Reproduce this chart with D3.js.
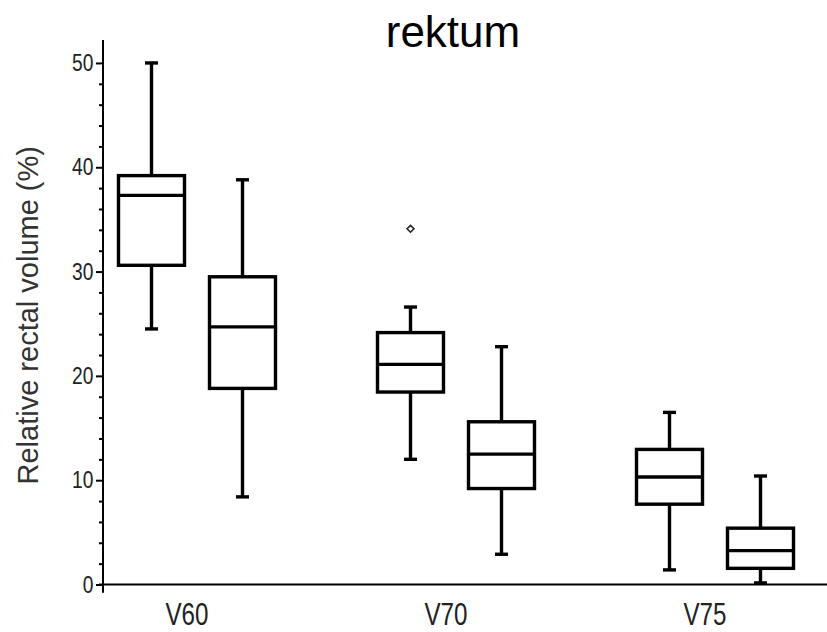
<!DOCTYPE html>
<html>
<head>
<meta charset="utf-8">
<script src="https://cdn.jsdelivr.net/npm/d3@7"></script>
<style>
  html, body { margin: 0; padding: 0; background: #fff; }
  svg { display: block; }
</style>
</head>
<body>
<svg id="chart" width="827" height="632"></svg>
<script>
// ---- data ----
const groups = ["V60", "V70", "V75"];
const series = ["A", "B"];
// five-number summaries per series, one entry per group
const seriesAMin    = [24.5, 12.0, 1.4];
const seriesAQ1     = [30.6, 18.45, 7.7];
const seriesAMedian = [37.3, 21.1, 10.3];
const seriesAQ3     = [39.2, 24.15, 12.95];
const seriesAMax    = [50.0, 26.6, 16.5];
const seriesBMin    = [8.4, 2.9, 0.15];
const seriesBQ1     = [18.8, 9.2, 1.55];
const seriesBMedian = [24.7, 12.5, 3.25];
const seriesBQ3     = [29.5, 15.6, 5.4];
const seriesBMax    = [38.8, 22.8, 10.4];
// outliers
const outlierGroup  = ["V70"];
const outlierSeries = ["A"];
const outlierValue  = [34.1];
const yTickValues = [0, 10, 20, 30, 40, 50];
const yMinorTickValues = [2, 4, 6, 8, 12, 14, 16, 18, 22, 24, 26, 28, 32, 34, 36, 38, 42, 44, 46, 48];
const titleText = "rektum";
const yTitleText = "Relative rectal volume (%)";

// build table
const boxes = [];
groups.forEach((g, i) => {
  boxes.push({ group: g, series: "A", min: seriesAMin[i], q1: seriesAQ1[i], med: seriesAMedian[i], q3: seriesAQ3[i], max: seriesAMax[i] });
  boxes.push({ group: g, series: "B", min: seriesBMin[i], q1: seriesBQ1[i], med: seriesBMedian[i], q3: seriesBQ3[i], max: seriesBMax[i] });
});
const outliers = outlierValue.map((v, i) => ({ group: outlierGroup[i], series: outlierSeries[i], value: v }));

const svg = d3.select("#chart");
const sans = "'Liberation Sans', Arial, Helvetica, sans-serif";
const squeeze = 0.8;

// scales
const y = d3.scaleLinear().domain([0, 52.2]).range([584.5, 40]);
const x0 = d3.scaleBand().domain(groups).range([67.5, 844.5]);
const x1 = d3.scalePoint().domain(series).range([84, 175]);
const boxW = 66, capW = 13;
const cx = d => x0(d.group) + x1(d.series);

// y axis (major)
const yAxis = svg.append("g")
  .attr("transform", "translate(103,0)")
  .call(d3.axisLeft(y).tickValues(yTickValues).tickSize(7).tickPadding(5).tickSizeOuter(0));
yAxis.select(".domain").remove();
yAxis.selectAll(".tick line").attr("stroke", "#000").attr("stroke-width", 2);
yAxis.selectAll(".tick text")
  .attr("font-family", sans).attr("font-size", 24).attr("fill", "#222")
  .attr("transform", `scale(${squeeze},1)`);

// minor ticks
const yMinor = svg.append("g")
  .attr("transform", "translate(103,0)")
  .call(d3.axisLeft(y).tickValues(yMinorTickValues).tickSize(4).tickFormat("").tickSizeOuter(0));
yMinor.select(".domain").remove();
yMinor.selectAll(".tick line").attr("stroke", "#000").attr("stroke-width", 2);

// axis lines
svg.append("line")
  .attr("x1", 103).attr("x2", 103)
  .attr("y1", y(52.2)).attr("y2", y(-0.8))
  .attr("stroke", "#000").attr("stroke-width", 2);
svg.append("line")
  .attr("x1", 99).attr("x2", 827)
  .attr("y1", y(0)).attr("y2", y(0))
  .attr("stroke", "#000").attr("stroke-width", 2);

// x labels
svg.append("g").selectAll("g")
  .data(groups).join("g")
  .attr("transform", g => `translate(${x0(g) + x0.bandwidth() / 2 - 10},625)`)
  .append("text")
  .attr("transform", `scale(0.78,1)`)
  .attr("text-anchor", "middle")
  .attr("font-family", sans).attr("font-size", 31).attr("fill", "#222")
  .text(g => g);

// boxes
const bg = svg.append("g").selectAll("g").data(boxes).join("g");
const sw = 3.4;
bg.append("line")
  .attr("x1", cx).attr("x2", cx)
  .attr("y1", d => y(d.max)).attr("y2", d => y(d.q3))
  .attr("stroke", "#000").attr("stroke-width", sw);
bg.append("line")
  .attr("x1", cx).attr("x2", cx)
  .attr("y1", d => y(d.q1)).attr("y2", d => y(d.min))
  .attr("stroke", "#000").attr("stroke-width", sw);
bg.append("line")
  .attr("x1", d => cx(d) - capW / 2).attr("x2", d => cx(d) + capW / 2)
  .attr("y1", d => y(d.max)).attr("y2", d => y(d.max))
  .attr("stroke", "#000").attr("stroke-width", sw);
bg.append("line")
  .attr("x1", d => cx(d) - capW / 2).attr("x2", d => cx(d) + capW / 2)
  .attr("y1", d => y(d.min)).attr("y2", d => y(d.min))
  .attr("stroke", "#000").attr("stroke-width", sw);
bg.append("rect")
  .attr("x", d => cx(d) - boxW / 2).attr("width", boxW)
  .attr("y", d => y(d.q3)).attr("height", d => y(d.q1) - y(d.q3))
  .attr("fill", "#fff").attr("stroke", "#000").attr("stroke-width", sw);
bg.append("line")
  .attr("x1", d => cx(d) - boxW / 2).attr("x2", d => cx(d) + boxW / 2)
  .attr("y1", d => y(d.med)).attr("y2", d => y(d.med))
  .attr("stroke", "#000").attr("stroke-width", sw);

// outliers (small diamonds)
svg.append("g").selectAll("path")
  .data(outliers).join("path")
  .attr("d", d3.symbol(d3.symbolDiamond2, 30))
  .attr("transform", d => `translate(${x0(d.group) + x1(d.series)},${y(d.value)})`)
  .attr("fill", "#fff").attr("stroke", "#222").attr("stroke-width", 1.6);

// title
svg.append("text")
  .attr("x", 453).attr("y", 47)
  .attr("text-anchor", "middle")
  .attr("font-family", sans).attr("font-size", 44).attr("fill", "#000")
  .text(titleText);

// y title
svg.append("text")
  .attr("transform", `translate(38,${(y(0) + y(52.2)) / 2 + 3}) rotate(-90)`)
  .attr("text-anchor", "middle")
  .attr("font-family", sans).attr("font-size", 29).attr("fill", "#333")
  .text(yTitleText);
</script>
</body>
</html>
